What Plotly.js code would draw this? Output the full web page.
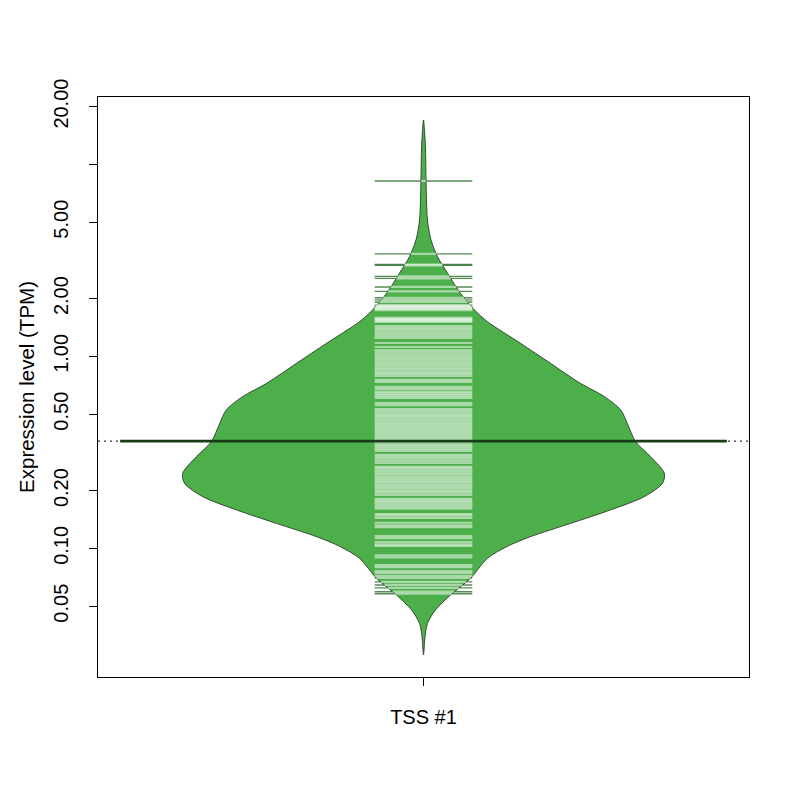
<!DOCTYPE html>
<html>
<head>
<meta charset="utf-8">
<script src="https://cdn.plot.ly/plotly-3.0.1.min.js"></script>
<style>html,body{margin:0;padding:0;background:#fff;}#chart{width:800px;height:800px;}</style>
</head>
<body>
<div id="chart"></div>
<script>
// ---- data ----
const categories = ["TSS #1"];
const categoryPos = [1];

// bean outline: expression value (TPM) and half-width of the density (x units)
const beanTPM = [17.03, 15.11, 11.89, 8.81, 6.52, 5.13, 4.04, 3.31, 2.71, 2.13, 1.745, 1.516, 1.170, 0.921, 0.724, 0.617, 0.526, 0.448, 0.359, 0.300, 0.246, 0.218, 0.186, 0.1585, 0.135, 0.115, 0.102, 0.0888, 0.0699, 0.0572, 0.0478, 0.0407, 0.0347, 0.0279];
const beanHalfWidth = [0, 0.0015, 0.0031, 0.0038, 0.0046, 0.0061, 0.0115, 0.0215, 0.0369, 0.0568, 0.0783, 0.0983, 0.149, 0.195, 0.241, 0.278, 0.303, 0.313, 0.326, 0.349, 0.370, 0.367, 0.339, 0.287, 0.226, 0.164, 0.1275, 0.0983, 0.0722, 0.0415, 0.0184, 0.0061, 0.0023, 0];

// individual observations (bean lines), TPM
const observations = [8.2, 3.42, 3.01, 2.98, 2.61, 2.55, 2.30, 2.18, 2.02, 1.97, 1.92, 1.85, 1.83, 1.81, 1.79, 1.77, 1.74, 1.59, 1.57, 1.55, 1.53,
  1.511, 1.440, 1.406, 1.373, 1.340, 1.308, 1.277, 1.247, 1.174, 1.119, 1.080, 1.054, 1.029, 1.005, 0.981, 0.958, 0.935, 0.913, 0.892, 0.870,
  0.850, 0.829, 0.810, 0.791, 0.754, 0.736, 0.693, 0.676, 0.653, 0.638, 0.623, 0.608, 0.572, 0.558, 0.532, 0.520, 0.507, 0.495, 0.484, 0.472,
  0.461, 0.450, 0.440, 0.429, 0.419, 0.409, 0.400, 0.390, 0.381, 0.372, 0.363, 0.355, 0.346, 0.338, 0.330, 0.322, 0.307, 0.300, 0.293, 0.286,
  0.279, 0.266, 0.260, 0.254, 0.248, 0.242, 0.236, 0.230, 0.225, 0.220, 0.214, 0.209, 0.204, 0.199, 0.195, 0.190, 0.181, 0.177, 0.173, 0.169,
  0.165, 0.161, 0.151, 0.148, 0.144, 0.136, 0.132, 0.129, 0.116, 0.113, 0.108, 0.105, 0.103, 0.0921, 0.0899, 0.0818, 0.0799, 0.0762, 0.0744,
  0.0718, 0.0701, 0.0669, 0.0645, 0.0623, 0.0595, 0.0581];

const medianTPM = 0.362;

const yTickVals = [0.05, 0.1, 0.2, 0.5, 1, 2, 5, 10, 20];
const yTickText = ["0.05", "0.10", "0.20", "0.50", "1.00", "2.00", "5.00", "", "20.00"];

// ---- styling constants ----
const FILL = "#4DAF4A";
const LINE_HALF = 0.075;
const AVG_HALF = 0.466;

function halfWidthAt(v) {
  const lv = Math.log10(v);
  for (let i = 0; i < beanTPM.length - 1; i++) {
    const a = Math.log10(beanTPM[i]), b = Math.log10(beanTPM[i + 1]);
    if (lv <= a && lv >= b) {
      const t = (a - lv) / (a - b);
      return beanHalfWidth[i] + t * (beanHalfWidth[i + 1] - beanHalfWidth[i]);
    }
  }
  return 0;
}

const c = categoryPos[0];
const traces = [];

// overall dotted line
traces.push({x: [0.5, 1.5], y: [medianTPM, medianTPM], mode: "lines",
  line: {color: "#000", width: 1, dash: "2px,4px"}, hoverinfo: "skip", showlegend: false});

// bean lines, full length (visible outside the bean)
const dx = [], dy = [];
observations.forEach(v => { dx.push(c - LINE_HALF, c + LINE_HALF, null); dy.push(v, v, null); });
traces.push({x: dx, y: dy, mode: "lines", line: {color: "rgba(30,100,30,0.75)", width: 1.4},
  hoverinfo: "skip", showlegend: false});

// bean polygon
const px = [], py = [];
for (let i = 0; i < beanTPM.length; i++) { px.push(c - beanHalfWidth[i]); py.push(beanTPM[i]); }
for (let i = beanTPM.length - 2; i >= 0; i--) { px.push(c + beanHalfWidth[i]); py.push(beanTPM[i]); }
traces.push({x: px, y: py, mode: "lines", fill: "toself", fillcolor: FILL,
  line: {color: "#2a3a2a", width: 0.9, shape: "spline", smoothing: 0.8}, hoverinfo: "skip", showlegend: false});

// bean lines inside bean (light)
const wx = [], wy = [];
observations.forEach(v => {
  const h = Math.min(LINE_HALF, halfWidthAt(v));
  if (h > 0) { wx.push(c - h, c + h, null); wy.push(v, v, null); }
});
traces.push({x: wx, y: wy, mode: "lines", line: {color: "rgba(255,255,255,0.52)", width: 2.2},
  hoverinfo: "skip", showlegend: false});

// average line
traces.push({x: [c - AVG_HALF, c + AVG_HALF], y: [medianTPM, medianTPM], mode: "lines",
  line: {color: "#183d18", width: 2.6}, hoverinfo: "skip", showlegend: false});

const FONT = "Liberation Sans, Arial, sans-serif";
const layout = {
  width: 800, height: 800,
  margin: {l: 98, r: 51, t: 97, b: 123},
  paper_bgcolor: "#fff", plot_bgcolor: "#fff",
  showlegend: false,
  font: {family: FONT, size: 20, color: "#000"},
  xaxis: {
    range: [0.5, 1.5], tickvals: categoryPos, ticktext: categories,
    ticks: "outside", ticklen: 8, tickcolor: "#000", tickwidth: 1,
    showline: true, linecolor: "#000", linewidth: 1, mirror: true,
    showgrid: false, zeroline: false, ticklabelstandoff: 14,
    tickfont: {family: FONT, size: 20, color: "#000"}
  },
  yaxis: {
    type: "log", range: [-1.6698, 1.351],
    tickvals: yTickVals, ticktext: yTickText, tickangle: -90,
    ticks: "outside", ticklen: 8, tickcolor: "#000", tickwidth: 1,
    showline: true, linecolor: "#000", linewidth: 1, mirror: true,
    showgrid: false, zeroline: false, ticklabelstandoff: 13,
    tickfont: {family: FONT, size: 20, color: "#000"},
    title: {text: "Expression level (TPM)", font: {family: FONT, size: 20.5, color: "#000"}, standoff: 9}
  }
};

Plotly.newPlot("chart", traces, layout, {displayModeBar: false, staticPlot: true});
</script>
</body>
</html>
